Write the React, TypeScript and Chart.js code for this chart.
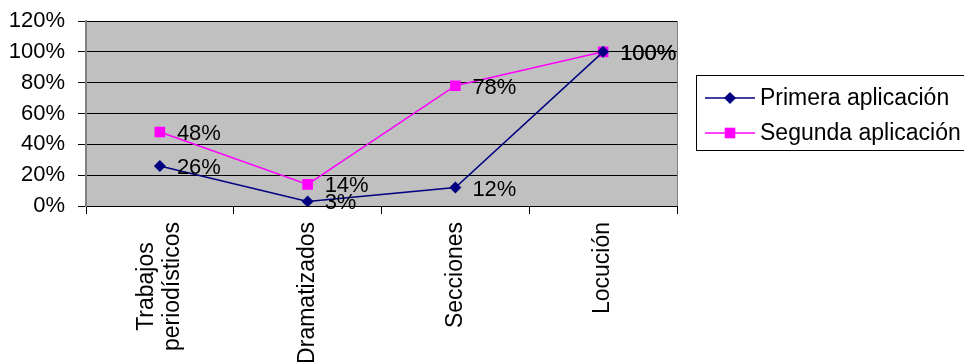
import React, { useEffect, useRef } from "react";
import { Chart, registerables } from "chart.js";

Chart.register(...registerables);

const categories: (string | string[])[] = [
  ["Trabajos", "periodísticos"],
  "Dramatizados",
  "Secciones",
  "Locución",
];
const primera = [26, 3, 12, 100];
const segunda = [48, 14, 78, 100];
const seriesNames = ["Primera aplicación", "Segunda aplicación"];
const seriesColors = ["#000080", "#FF00FF"];
const yTicks = [0, 20, 40, 60, 80, 100, 120];

const FONT = "Liberation Sans, Arial, sans-serif";

const bgPlugin = {
  id: "plotBg",
  beforeDraw(chart: any) {
    const { ctx, chartArea: a } = chart;
    ctx.save();
    ctx.fillStyle = "#C0C0C0";
    ctx.fillRect(a.left, a.top, a.right - a.left, a.bottom - a.top);
    ctx.restore();
  },
  afterDraw(chart: any) {
    const { ctx, chartArea: a } = chart;
    ctx.save();
    ctx.strokeStyle = "#808080";
    ctx.lineWidth = 1;
    ctx.beginPath();
    ctx.moveTo(a.right + 0.5, a.top);
    ctx.lineTo(a.right + 0.5, a.bottom);
    ctx.stroke();
    ctx.restore();
  },
};

const xLabelsPlugin = {
  id: "xLabels",
  afterDraw(chart: any) {
    const { ctx } = chart;
    const xs = chart.scales.x;
    ctx.save();
    ctx.font = `23px ${FONT}`;
    ctx.fillStyle = "#000";
    ctx.textBaseline = "middle";
    ctx.textAlign = "center";
    const lh = 26;
    categories.forEach((c, i) => {
      const lines = Array.isArray(c) ? c : [c];
      const w = Math.max(...lines.map((l) => ctx.measureText(l).width));
      const cx = xs.getPixelForTick(i);
      ctx.save();
      ctx.translate(cx, 222);
      ctx.rotate(-Math.PI / 2);
      lines.forEach((l, j) => {
        const off = (j - (lines.length - 1) / 2) * lh;
        ctx.fillText(l, -w / 2, off);
      });
      ctx.restore();
    });
    ctx.restore();
  },
};

const dataLabelsPlugin = {
  id: "dataLabels",
  afterDatasetsDraw(chart: any) {
    const { ctx } = chart;
    ctx.save();
    ctx.font = `22px ${FONT}`;
    ctx.fillStyle = "#000";
    ctx.textAlign = "left";
    ctx.textBaseline = "middle";
    chart.data.datasets.forEach((ds: any, di: number) => {
      const meta = chart.getDatasetMeta(di);
      meta.data.forEach((pt: any, i: number) => {
        ctx.fillText(`${ds.data[i]}%`, pt.x + 17, pt.y + 2);
      });
    });
    ctx.restore();
  },
};

function drawMarker(ctx: CanvasRenderingContext2D, style: string, x: number, y: number, color: string) {
  ctx.fillStyle = color;
  ctx.beginPath();
  if (style === "rectRot") {
    const r = 6;
    ctx.moveTo(x, y - r);
    ctx.lineTo(x + r, y);
    ctx.lineTo(x, y + r);
    ctx.lineTo(x - r, y);
    ctx.closePath();
  } else {
    const s = 5.3;
    ctx.rect(x - s, y - s, 2 * s, 2 * s);
  }
  ctx.fill();
}

const legendPlugin = {
  id: "customLegend",
  afterDraw(chart: any) {
    const { ctx } = chart;
    ctx.save();
    ctx.fillStyle = "#fff";
    ctx.fillRect(696.5, 75.5, 300, 75);
    ctx.strokeStyle = "#000";
    ctx.lineWidth = 1;
    ctx.strokeRect(696.5, 75.5, 300, 75);
    ctx.font = `23px ${FONT}`;
    ctx.textAlign = "left";
    ctx.textBaseline = "middle";
    chart.data.datasets.forEach((ds: any, i: number) => {
      const y = 98 + i * 35;
      ctx.strokeStyle = ds.borderColor;
      ctx.lineWidth = 1.5;
      ctx.beginPath();
      ctx.moveTo(705, y);
      ctx.lineTo(755, y);
      ctx.stroke();
      drawMarker(ctx, ds.pointStyle, 730, y, ds.borderColor);
      ctx.fillStyle = "#000";
      ctx.fillText(ds.label, 760, y + 1);
    });
    ctx.restore();
  },
};

export default function App() {
  const ref = useRef<HTMLCanvasElement>(null);
  useEffect(() => {
    if (!ref.current) return;
    const chart = new Chart(ref.current, {
      type: "line",
      data: {
        labels: categories.map((c) => (Array.isArray(c) ? c.join(" ") : c)),
        datasets: [
          {
            label: seriesNames[0],
            data: primera,
            borderColor: seriesColors[0],
            backgroundColor: seriesColors[0],
            pointBackgroundColor: seriesColors[0],
            pointBorderColor: seriesColors[0],
            pointStyle: "rectRot",
            pointRadius: 6,
            pointBorderWidth: 0,
            borderWidth: 1.5,
            tension: 0,
          },
          {
            label: seriesNames[1],
            data: segunda,
            borderColor: seriesColors[1],
            backgroundColor: seriesColors[1],
            pointBackgroundColor: seriesColors[1],
            pointBorderColor: seriesColors[1],
            pointStyle: "rect",
            pointRadius: 7.5,
            pointBorderWidth: 0,
            borderWidth: 1.5,
            tension: 0,
          },
        ],
      },
      options: {
        responsive: false,
        animation: false,
        devicePixelRatio: 1,
        layout: { padding: { top: 21, right: 287, left: 0, bottom: 0 } },
        plugins: { legend: { display: false }, tooltip: { enabled: false } },
        scales: {
          x: {
            type: "category",
            offset: true,
            grid: {
              offset: true,
              drawOnChartArea: false,
              drawTicks: true,
              tickLength: 8,
              tickColor: "#000",
              tickWidth: 1,
            },
            border: { display: true, color: "#000", width: 1 },
            ticks: { display: false },
            afterFit: (s: any) => {
              s.height = 158;
              s.paddingLeft = 0;
              s.paddingRight = 0;
            },
          },
          y: {
            min: 0,
            max: 120,
            afterBuildTicks: (s: any) => {
              s.ticks = yTicks.map((v) => ({ value: v }));
            },
            grid: {
              color: "#000",
              lineWidth: 1,
              tickLength: 8,
              tickColor: "#000",
            },
            border: { display: true, color: "#808080", width: 2 },
            ticks: {
              padding: 13,
              color: "#000",
              font: { family: FONT, size: 22 },
              callback: (v: any) => `${v}%`,
            },
            afterFit: (s: any) => {
              s.width = 86;
              s.paddingTop = 0;
              s.paddingBottom = 0;
            },
          },
        },
      },
      plugins: [bgPlugin, dataLabelsPlugin, xLabelsPlugin, legendPlugin],
    } as any);
    return () => chart.destroy();
  }, []);
  return (
    <div style={{ position: "fixed", left: 0, top: 0, width: 964, height: 364, background: "#fff" }}>
      <canvas ref={ref} width={964} height={364} style={{ display: "block" }} />
    </div>
  );
}
